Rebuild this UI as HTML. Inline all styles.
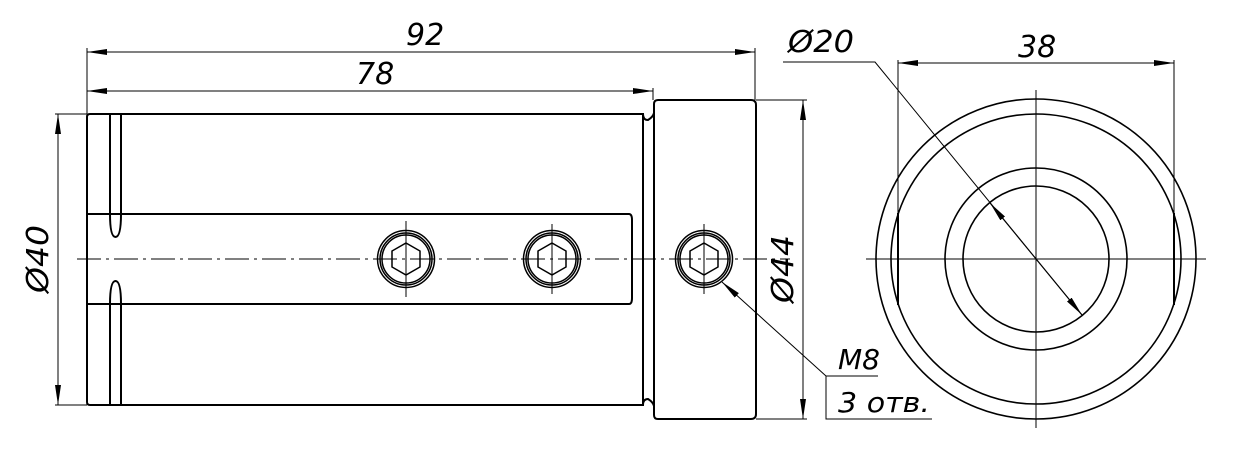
<!DOCTYPE html>
<html><head><meta charset="utf-8"><style>html,body{margin:0;padding:0;background:#fff}svg{display:block}text{font-family:"DejaVu Sans","Liberation Sans",sans-serif;font-style:italic;fill:#000}</style></head>
<body>
<svg width="1238" height="465" viewBox="0 0 1238 465" xmlns="http://www.w3.org/2000/svg">
<defs>
<marker id="a" viewBox="0 0 20 6" refX="20" refY="3" markerWidth="20" markerHeight="6" markerUnits="userSpaceOnUse" orient="auto-start-reverse"><path d="M0,0 L20,3 L0,6 Z" fill="#000"/></marker>
</defs>
<g fill="none" stroke="#000">
<g stroke-width="2">
<path d="M90,114 H643 V405 H90 Q87,405 87,402 V117 Q87,114 90,114 Z"/>
<line x1="110" y1="114" x2="110" y2="214"/><line x1="121" y1="114" x2="121" y2="214"/>
<line x1="110" y1="304" x2="110" y2="405"/><line x1="121" y1="304" x2="121" y2="405"/>
<path d="M87,214 H629 Q632,214 632,220 V298 Q632,304 629,304 H87"/>
<path d="M110,214 Q110,237 115.5,237 Q121,237 121,214"/>
<path d="M110,304 Q110,281 115.5,281 Q121,281 121,304"/>
<path d="M643,114 Q643,120 648,120 Q653,117 654,113"/>
<path d="M643,405 Q643,399 648,399 Q653,402 654,406"/>
<path d="M658,100 H751 Q756,100 756,105 V414 Q756,419 751,419 H658 Q654,419 654,415 V104 Q654,100 658,100 Z"/>
</g>
<g stroke-width="1.5">
<circle cx="406" cy="259" r="28.5"/><circle cx="406" cy="259" r="26"/><circle cx="406" cy="259" r="24"/>
<circle cx="552" cy="259" r="28.5"/><circle cx="552" cy="259" r="26"/><circle cx="552" cy="259" r="24"/>
<circle cx="704" cy="259" r="28.5"/><circle cx="704" cy="259" r="26"/><circle cx="704" cy="259" r="24"/>
<polygon points="406,243 420,251 420,267 406,275 392,267 392,251"/>
<polygon points="552,243 566,251 566,267 552,275 538,267 538,251"/>
<polygon points="704,243 718,251 718,267 704,275 690,267 690,251"/>
</g>
<g stroke-width="1">
<line x1="406" y1="221" x2="406" y2="297"/><line x1="552" y1="224" x2="552" y2="294"/><line x1="704" y1="224" x2="704" y2="294"/>
<line x1="77" y1="259" x2="790" y2="259" stroke-dasharray="24,5,3,5"/>
<line x1="87" y1="48" x2="87" y2="114"/><line x1="755" y1="48" x2="755" y2="100"/><line x1="653" y1="88" x2="653" y2="100"/>
<line x1="87" y1="52" x2="755" y2="52" marker-start="url(#a)" marker-end="url(#a)"/>
<line x1="87" y1="91" x2="653" y2="91" marker-start="url(#a)" marker-end="url(#a)"/>
<line x1="55" y1="114" x2="87" y2="114"/><line x1="55" y1="405" x2="87" y2="405"/>
<line x1="58" y1="114" x2="58" y2="405" marker-start="url(#a)" marker-end="url(#a)"/>
<line x1="756" y1="100" x2="807" y2="100"/><line x1="756" y1="419" x2="807" y2="419"/>
<line x1="803" y1="100" x2="803" y2="419" marker-start="url(#a)" marker-end="url(#a)"/>
<line x1="826" y1="376" x2="722" y2="282" marker-end="url(#a)"/>
<polyline points="878,376 826,376 826,419 932,419"/>
<line x1="898" y1="60" x2="898" y2="213"/><line x1="1174" y1="60" x2="1174" y2="213"/>
<line x1="898" y1="63" x2="1174" y2="63" marker-start="url(#a)" marker-end="url(#a)"/>
<polyline points="783,62 875,62 1082,315" />
<line x1="1036" y1="259" x2="990" y2="203" marker-end="url(#a)"/>
<line x1="1036" y1="259" x2="1082" y2="315" marker-end="url(#a)"/>
<line x1="866" y1="259" x2="1206" y2="259"/>
<line x1="1036" y1="90" x2="1036" y2="428"/>
</g>
<g stroke-width="1.6">
<circle cx="1036" cy="259" r="160"/><circle cx="1036" cy="259" r="145"/>
<circle cx="1036" cy="259" r="91"/><circle cx="1036" cy="259" r="73"/>
</g>
<g stroke-width="2"><line x1="898" y1="213" x2="898" y2="305"/><line x1="1174" y1="213" x2="1174" y2="305"/></g>
</g>
<g font-size="30">
<text x="406" y="45">92</text>
<text x="356" y="84">78</text>
<text x="788" y="52" textLength="66" lengthAdjust="spacingAndGlyphs">Ø20</text>
<text x="1018" y="57">38</text>
<text x="838" y="369" font-size="28">M8</text>
<text x="838" y="412" font-size="28" textLength="92" lengthAdjust="spacingAndGlyphs">3 отв.</text>
<text transform="translate(48,259) rotate(-90)" text-anchor="middle" textLength="68" lengthAdjust="spacingAndGlyphs">Ø40</text>
<text transform="translate(793,269) rotate(-90)" text-anchor="middle" textLength="68" lengthAdjust="spacingAndGlyphs">Ø44</text>
</g>
</svg>
</body></html>
